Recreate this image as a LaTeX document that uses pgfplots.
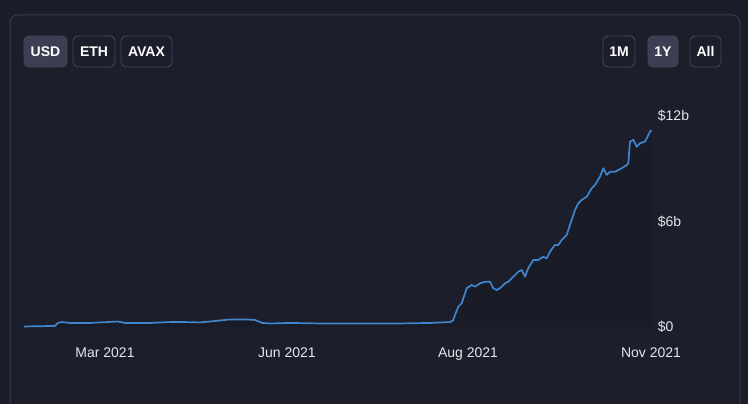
\documentclass[border=0pt]{standalone}
\usepackage{pgfplots}
\pgfplotsset{compat=1.18}
\usepackage{fontspec}
\setmainfont{Liberation Sans}
\definecolor{bgc}{HTML}{1B1D2A}
\definecolor{panelc}{HTML}{1C1E2B}
\definecolor{borderc}{HTML}{363947}
\definecolor{btnfill}{HTML}{3B3F51}
\definecolor{btnborder}{HTML}{424657}
\definecolor{txtc}{HTML}{E4E6EC}
\definecolor{linec}{HTML}{3F86CC}
\pgfplotstableread{
x v
0 0.03
31 0.06
34 0.23
38 0.28
46 0.23
66 0.23
76 0.26
94 0.31
101 0.23
126 0.23
146 0.28
161 0.28
176 0.26
191 0.34
206 0.43
221 0.43
231 0.40
238 0.23
246 0.20
266 0.23
296 0.20
326 0.20
356 0.20
376 0.20
406 0.23
426 0.28
429 0.37
431 0.68
434.3 1.15
437.7 1.35
442.7 2.20
447.7 2.39
451 2.29
456 2.48
461 2.57
466 2.57
469.3 2.20
472.7 2.10
476 2.20
481 2.48
484.3 2.57
489.3 2.86
494.3 3.14
497.7 3.24
501 2.86
504.3 3.34
509.3 3.81
514.3 3.81
519.3 3.99
522.7 3.90
526 4.28
531 4.66
534.3 4.66
537.7 4.94
542.7 5.23
546 5.80
551 6.65
554.3 7.03
557.7 7.22
562.7 7.40
567.7 7.88
571 8.07
576 8.54
579.3 9.02
582.7 8.64
586 8.82
591 8.82
594.3 8.92
597.7 9.02
602.7 9.20
604.3 9.30
606 10.53
609.3 10.63
612.7 10.24
616 10.44
621 10.53
622.7 10.72
626 11.10
627.7 11.19
}\datatable
\begin{document}
\begin{tikzpicture}[x=1pt,y=1pt]
\useasboundingbox (0,0) rectangle (748,404);
\clip (0,0) rectangle (748,404);
\fill[bgc] (0,0) rectangle (748,404);
\draw[borderc, fill=panelc, line width=1pt, rounded corners=8] (10,-20) rectangle (740,389);
% buttons
\tikzset{btn/.style={draw=btnborder, line width=0.9pt, rounded corners=5},
         btxt/.style={text=white, font=\fontsize{14}{16}\selectfont\bfseries}}
\draw[btn, fill=btnfill] (24,337) rectangle (67,368);
\node[btxt] at (45.5,352.5) {USD};
\draw[btn] (73,337) rectangle (115,368);
\node[btxt] at (94,352.5) {ETH};
\draw[btn] (121,337) rectangle (172,368);
\node[btxt] at (146.5,352.5) {AVAX};
\draw[btn] (603,337) rectangle (635,368);
\node[btxt] at (619,352.5) {1M};
\draw[btn, fill=btnfill] (648,337) rectangle (678,368);
\node[btxt] at (663,352.5) {1Y};
\draw[btn] (690,337) rectangle (721,368);
\node[btxt] at (705.5,352.5) {All};
\begin{axis}[
  at={(24pt,77pt)}, anchor=origin,
  scale only axis, width=627.7pt, height=211.2pt,
  xmin=0, xmax=627.7, ymin=0, ymax=12,
  clip=false,
  axis line style={draw=none},
  major tick length=0pt,
  xtick={81,263,444,627},
  xticklabels={Mar 2021,Jun 2021,Aug 2021,Nov 2021},
  ytick={0,6,12},
  yticklabels={\$0,\$6b,\$12b},
  yticklabel pos=right,
  xticklabel style={anchor=base, yshift=-31pt, inner sep=0pt, text=txtc, font=\fontsize{14}{16}\selectfont},
  yticklabel style={anchor=west, xshift=6pt, inner sep=0pt, text=txtc, font=\fontsize{14}{16}\selectfont},
  /pgf/number format/assume math mode=true,
]
\addplot[draw=none, fill=black, fill opacity=0.08] table[x=x,y=v] {\datatable} \closedcycle;
\addplot[linec, line width=1.7pt, line join=round] table[x=x,y=v] {\datatable};
\end{axis}
\end{tikzpicture}
\end{document}
